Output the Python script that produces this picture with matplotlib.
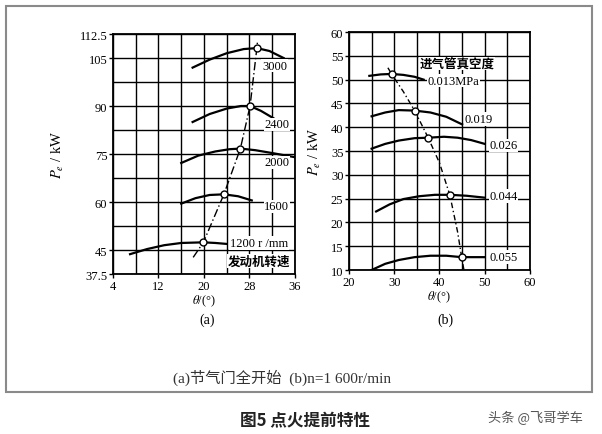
import numpy as np
import matplotlib.pyplot as plt
from matplotlib.patches import Rectangle

plt.rcParams['font.family'] = ['Liberation Serif', 'Noto Sans CJK SC']
plt.rcParams['mathtext.fontset'] = 'stix'

# (a) full throttle, power vs ignition advance at several engine speeds
a_speeds = ['3000', '2400', '2000', '1600', '1200 r /mm']
a_x = [
    [18, 21, 24, 27, 29.3, 31.5, 34],
    [18, 21, 24, 26.5, 28.1, 30, 32.2],
    [16, 19, 22, 24.5, 26.4, 29, 32, 36],
    [16, 18.5, 21, 23.5, 26, 28.4],
    [7, 10, 13, 16, 19.9, 22, 24],
]
a_y = [
    [102, 104.5, 106.5, 107.8, 108.1, 107.2, 105],
    [85, 87.5, 89.2, 90, 90, 88.5, 86.2],
    [72.2, 74.5, 75.8, 76.5, 76.7, 76.2, 75.3, 74],
    [59.5, 61.2, 62.2, 62.4, 61.8, 60.5],
    [43.7, 45.3, 46.5, 47.2, 47.4, 47.2, 46.9],
]
a_opt_x = [19.9, 23.5, 26.4, 28.1, 29.3]
a_opt_y = [47.4, 62.4, 76.7, 90, 108.1]
a_line_x = [18.1, 19.9, 23.5, 26.4, 28.1, 29.3, 29.4]
a_line_y = [42.7, 47.4, 62.4, 76.7, 90, 108.1, 110]
a_lab_xy = [(30.2, 102.6), (30.6, 84.3), (30.6, 72.4), (30.6, 58.6), (24.6, 47.2)]

# (b) n = 1600 r/min, power vs ignition advance at several intake vacuums
b_vac = ['0.013MPa', '0.019', '0.026', '0.044', '0.055']
b_x = [
    [24.5, 27, 29.4, 32, 34.5, 36.5],
    [25, 28, 31, 34.5, 38, 41.5, 45],
    [25, 28, 31, 34.5, 37.5, 41, 44, 47, 50],
    [26, 29, 32, 35.5, 39, 42.3, 46, 50],
    [25, 28, 31, 34.5, 38, 41.5, 44.9, 50],
]
b_y = [
    [50.8, 51.1, 51.2, 51.0, 50.6, 50.0],
    [42.3, 43.1, 43.6, 43.5, 43.1, 42.2, 40.6],
    [35.5, 36.5, 37.2, 37.7, 37.8, 38.0, 37.8, 37.3, 36.5],
    [22.3, 23.8, 24.9, 25.5, 25.8, 25.8, 25.6, 25.2],
    [10, 11.3, 12.1, 12.7, 13.0, 13.0, 12.7, 12.7],
]
b_opt_x = [29.4, 34.5, 37.5, 42.3, 44.9]
b_opt_y = [51.2, 43.5, 37.8, 25.7, 12.7]
b_line_x = [28.6, 29.4, 32, 34.5, 37.5, 40, 42.3, 44, 44.9, 45.4]
b_line_y = [52.5, 51.2, 47.5, 43.5, 37.8, 32.5, 25.7, 18, 12.7, 10]
b_lab_xy = [(37.3, 49.8), (45.6, 41.7), (51.0, 36.2), (51.0, 25.5), (51.0, 12.7)]

fig = plt.figure(figsize=(6.02, 4.35), dpi=100)
fig.add_artist(Rectangle((0.010, 0.097), 0.973, 0.887, transform=fig.transFigure,
                         fill=False, edgecolor='#8a8a8a', lw=1.5))

ax1 = fig.add_axes([0.1877, 0.3678, 0.3023, 0.5517])
ax2 = fig.add_axes([0.5797, 0.377, 0.3007, 0.547])

def style(ax, xlim, ylim, xt, yt, xg, yg, ylabs):
    ax.set_xlim(*xlim)
    ax.set_ylim(*ylim)
    ax.set_xticks(xt)
    ax.set_yticks(yt)
    ax.set_yticklabels(ylabs)
    ax.set_xticks(xg, minor=True)
    ax.set_yticks(yg, minor=True)
    ax.grid(which='both', color='black', lw=1.0)
    ax.tick_params(which='minor', length=0)
    ax.tick_params(which='major', length=3, width=1, labelsize=9, pad=1)
    for s in ax.spines.values():
        s.set_linewidth(1.3)
    ax.set_axisbelow(True)
    ax.set_ylabel('$P_e$ / kW', fontsize=10.5, labelpad=6)
    ax.set_xlabel(r'$\theta$/(°)', fontsize=9, labelpad=1)

style(ax1, (4, 36), (37.5, 112.5), [4, 12, 20, 28, 36],
      [37.5, 45, 60, 75, 90, 105, 112.5], np.arange(4, 37, 4),
      np.arange(37.5, 113, 7.5), ['37.5', '45', '60', '75', '90', '105', '112.5'])
style(ax2, (20, 60), (10, 60), [20, 30, 40, 50, 60], np.arange(10, 61, 5),
      np.arange(20, 61, 5), np.arange(10, 61, 5), [str(v) for v in range(10, 61, 5)])
ax1.yaxis.labelpad = 10

for xs, ys, lab, (tx, ty) in zip(a_x, a_y, a_speeds, a_lab_xy):
    ax1.plot(xs, ys, color='black', lw=1.6, zorder=3)
    ax1.text(tx, ty, lab, fontsize=9, va='center', ha='left', zorder=5,
             bbox=dict(facecolor='white', edgecolor='none', pad=0.5))
ax1.plot(a_line_x, a_line_y, color='black', lw=1.0, ls=(0, (6, 2, 1, 2)), zorder=3)
ax1.plot(a_opt_x, a_opt_y, 'o', ms=5, mfc='white', mec='black', mew=1, zorder=4)
ax1.text(24.2, 41.5, '发动机转速', fontsize=9, fontweight='bold', va='center', ha='left',
         zorder=5, bbox=dict(facecolor='white', edgecolor='none', pad=0.5))

for xs, ys, lab, (tx, ty) in zip(b_x, b_y, b_vac, b_lab_xy):
    ax2.plot(xs, ys, color='black', lw=1.6, zorder=3)
    ax2.text(tx, ty, lab, fontsize=9, va='center', ha='left', zorder=5,
             bbox=dict(facecolor='white', edgecolor='none', pad=0.5))
ax2.plot(b_line_x, b_line_y, color='black', lw=1.0, ls=(0, (4, 2, 1, 2)), zorder=3)
ax2.plot(b_opt_x, b_opt_y, 'o', ms=5, mfc='white', mec='black', mew=1, zorder=4)
ax2.text(35.6, 53.4, '进气管真空度', fontsize=9, fontweight='bold', va='center', ha='left',
         zorder=5, bbox=dict(facecolor='white', edgecolor='none', pad=0.5))

fig.text(207 / 602, 1 - 320 / 435, '(a)', fontsize=10, ha='center', va='center')
fig.text(445 / 602, 1 - 320 / 435, '(b)', fontsize=10, ha='center', va='center')
fig.text(173 / 602, 1 - 378 / 435, '(a)节气门全开始  (b)n=1 600r/min', fontsize=11,
         color='#333333', ha='left', va='center')
fig.text(305 / 602, 1 - 421 / 435, '图5 点火提前特性', fontsize=12, fontweight='bold',
         family=['Noto Sans CJK SC'], ha='center', va='center', color='#222222')
fig.text(535 / 602, 1 - 418 / 435, '头条 @飞哥学车', fontsize=9.5, color='#555555',
         family=['Noto Sans CJK SC'], ha='center', va='center')

fig.savefig('out.png', dpi=100)
